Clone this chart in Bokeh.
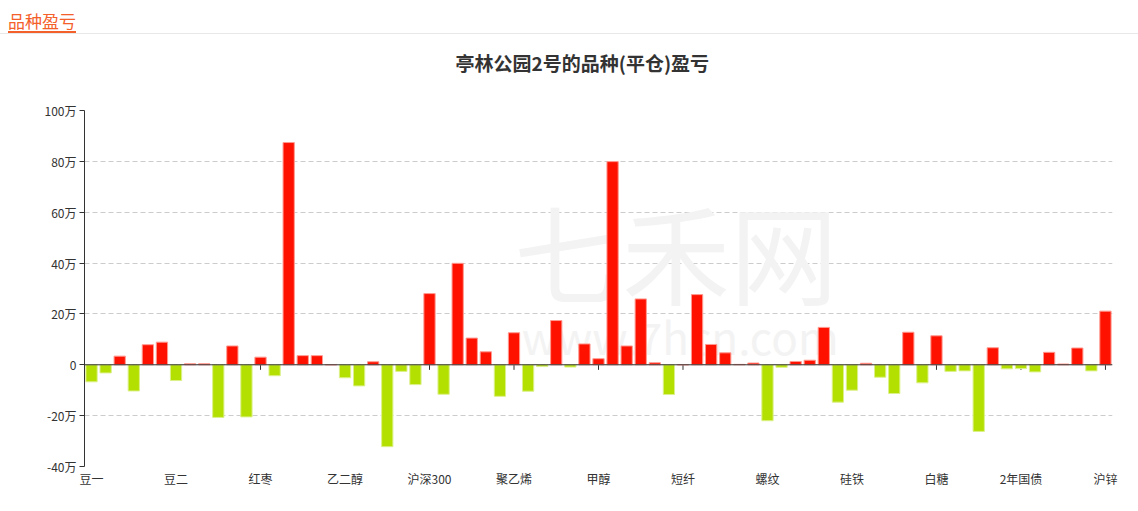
from bokeh.plotting import figure
from bokeh.models import Range1d, FixedTicker, Span, Div, ColumnDataSource, Label
from bokeh.layouts import column
from bokeh.embed import file_html
from bokeh.resources import INLINE

page_title = "品种盈亏"
chart_title = "亭林公园2号的品种(平仓)盈亏"

categories = [
    "豆一", "豆粕", "豆油", "棕榈油", "玉米", "玉米淀粉",
    "豆二", "鸡蛋", "生猪", "苹果", "棉花", "棉纱",
    "红枣", "菜粕", "菜油", "花生", "纯碱", "玻璃",
    "乙二醇", "PTA", "苯乙烯", "原油", "燃料油", "沥青",
    "沪深300", "上证50", "中证500", "中证1000", "聚丙烯", "PVC",
    "聚乙烯", "液化石油气", "尿素", "橡胶", "20号胶", "纸浆",
    "甲醇", "铁矿石", "焦炭", "焦煤", "动力煤", "线材",
    "短纤", "热卷", "不锈钢", "沪铜", "国际铜", "沪铝",
    "螺纹", "氧化铝", "沪铅", "沪镍", "沪锡", "锰硅",
    "硅铁", "工业硅", "碳酸锂", "黄金", "白银", "集运指数",
    "白糖", "粳米", "晚籼稻", "早籼稻", "强麦", "5年国债",
    "2年国债", "10年国债", "30年国债", "低硫燃料油", "对二甲苯", "烧碱",
    "沪锌",
]

# profit / loss per product, in 万 (10,000 yuan)
pnl_wan = [
    -6.7, -3.2, 3.4, -10.3, 7.9, 8.9,
    -6.2, 0.4, 0.4, -20.7, 7.4, -20.5,
    3.0, -4.3, 87.4, 3.6, 3.6, 0.0,
    -5.1, -8.3, 1.2, -32.2, -2.6, -7.8,
    28.0, -11.6, 39.9, 10.5, 5.1, -12.4,
    12.6, -10.4, -0.7, 17.4, -0.9, 8.2,
    2.4, 79.9, 7.4, 25.9, 0.8, -11.7,
    0.0, 27.6, 8.0, 4.7, 0.15, 0.7,
    -22.0, -1.0, 1.3, 1.8, 14.7, -14.7,
    -10.0, 0.6, -4.9, -11.3, 12.8, -7.1,
    11.4, -2.6, -2.4, -26.2, 6.7, -1.6,
    -1.5, -2.8, 4.9, 0.3, 6.6, -2.4,
    21.1,
]

y_ticks = [-40, -20, 0, 20, 40, 60, 80, 100]
label_step = 6

RED, RED_EDGE = "#ff1100", "#ff9a90"
GREEN, GREEN_EDGE = "#b3e000", "#dcf08a"
FONT = "Noto Sans CJK SC"

n = len(categories)
idx = list(range(n))
fills = [RED if v >= 0 else GREEN for v in pnl_wan]
edges = [RED_EDGE if v >= 0 else GREEN_EDGE for v in pnl_wan]
src = ColumnDataSource(dict(x=idx, top=pnl_wan, name=categories, fill=fills, edge=edges))

tick_idx = idx[::label_step]

header = Div(
    text=(
        '<div style="width:1138px;height:34px;box-sizing:border-box;'
        'border-bottom:1px solid #e8e8e8;">'
        '<span style="display:inline-block;vertical-align:top;box-sizing:border-box;'
        "margin-left:8px;height:33px;padding-top:11px;line-height:20px;"
        "font-family:'Noto Sans CJK SC';"
        'font-size:17px;color:#f4602a;border-bottom:2px solid #f4602a;">'
        + page_title + "</span></div>"
    ),
    width=1138,
    height=34,
    margin=(0, 0, 0, 0),
)

p = figure(
    width=1130,
    height=485,
    x_range=Range1d(-0.5, n - 0.5),
    y_range=Range1d(min(y_ticks), max(y_ticks)),
    output_backend="svg",
    toolbar_location=None,
    min_border_left=84,
    min_border_right=18,
    min_border_top=95,
    min_border_bottom=34,
    margin=(-19, 0, 0, 0),
)
p.outline_line_color = None
p.background_fill_color = "white"
p.border_fill_alpha = 0

p.title.text = chart_title
p.title.align = "left"
p.title.vertical_align = "top"
p.title.offset = 371
p.title.standoff = 65
p.title.text_font = FONT
p.title.text_font_size = "19px"
p.title.text_font_style = "bold"
p.title.text_color = "#333333"

# watermark
p.add_layout(Label(x=41.5, y=45, text="七禾网", text_font=FONT, text_font_size="108px",
                   text_color="#f3f3f3", text_align="center", text_baseline="middle",
                   level="underlay"))
p.add_layout(Label(x=41.8, y=11.5, text="www.7hcn.com", text_font=FONT, text_font_size="44px",
                   text_color="#f3f3f3", text_align="center", text_baseline="middle",
                   level="underlay"))

# grid
p.xgrid.grid_line_color = None
p.ygrid.ticker = FixedTicker(ticks=y_ticks)
p.ygrid.grid_line_color = "#cccccc"
p.ygrid.grid_line_dash = "5 3"

# y axis
p.yaxis.ticker = FixedTicker(ticks=y_ticks)
p.yaxis.major_label_overrides = {v: ("0" if v == 0 else f"{v}万") for v in y_ticks}
p.yaxis.axis_line_color = "#333333"
p.yaxis.major_tick_line_color = "#333333"
p.yaxis.major_tick_out = 5
p.yaxis.major_tick_in = 0
p.yaxis.minor_tick_line_color = None
p.yaxis.major_label_standoff = 3
p.yaxis.major_label_text_font = FONT
p.yaxis.major_label_text_font_size = "12px"
p.yaxis.major_label_text_color = "#333333"

# x axis (labels at bottom, axis line at zero)
p.xaxis.ticker = FixedTicker(ticks=tick_idx)
p.xaxis.major_label_overrides = {i: categories[i] for i in tick_idx}
p.xaxis.axis_line_color = None
p.xaxis.major_tick_line_color = None
p.xaxis.major_tick_out = 0
p.xaxis.major_tick_in = 0
p.xaxis.minor_tick_line_color = None
p.xaxis.major_label_standoff = 3
p.xaxis.major_label_text_font = FONT
p.xaxis.major_label_text_font_size = "12px"
p.xaxis.major_label_text_color = "#333333"

tick_len = 2.0
p.segment(x0=tick_idx, y0=[0] * len(tick_idx), x1=tick_idx, y1=[-tick_len] * len(tick_idx),
          line_color="#333333", line_width=1)

p.vbar(x="x", top="top", bottom=0, width=0.8, fill_color="fill", line_color="edge",
       line_width=1, source=src)

p.add_layout(Span(location=0, dimension="width", line_color="#333333", line_width=1))

layout = column(header, p)
open("out.html", "w").write(file_html(layout, INLINE))
